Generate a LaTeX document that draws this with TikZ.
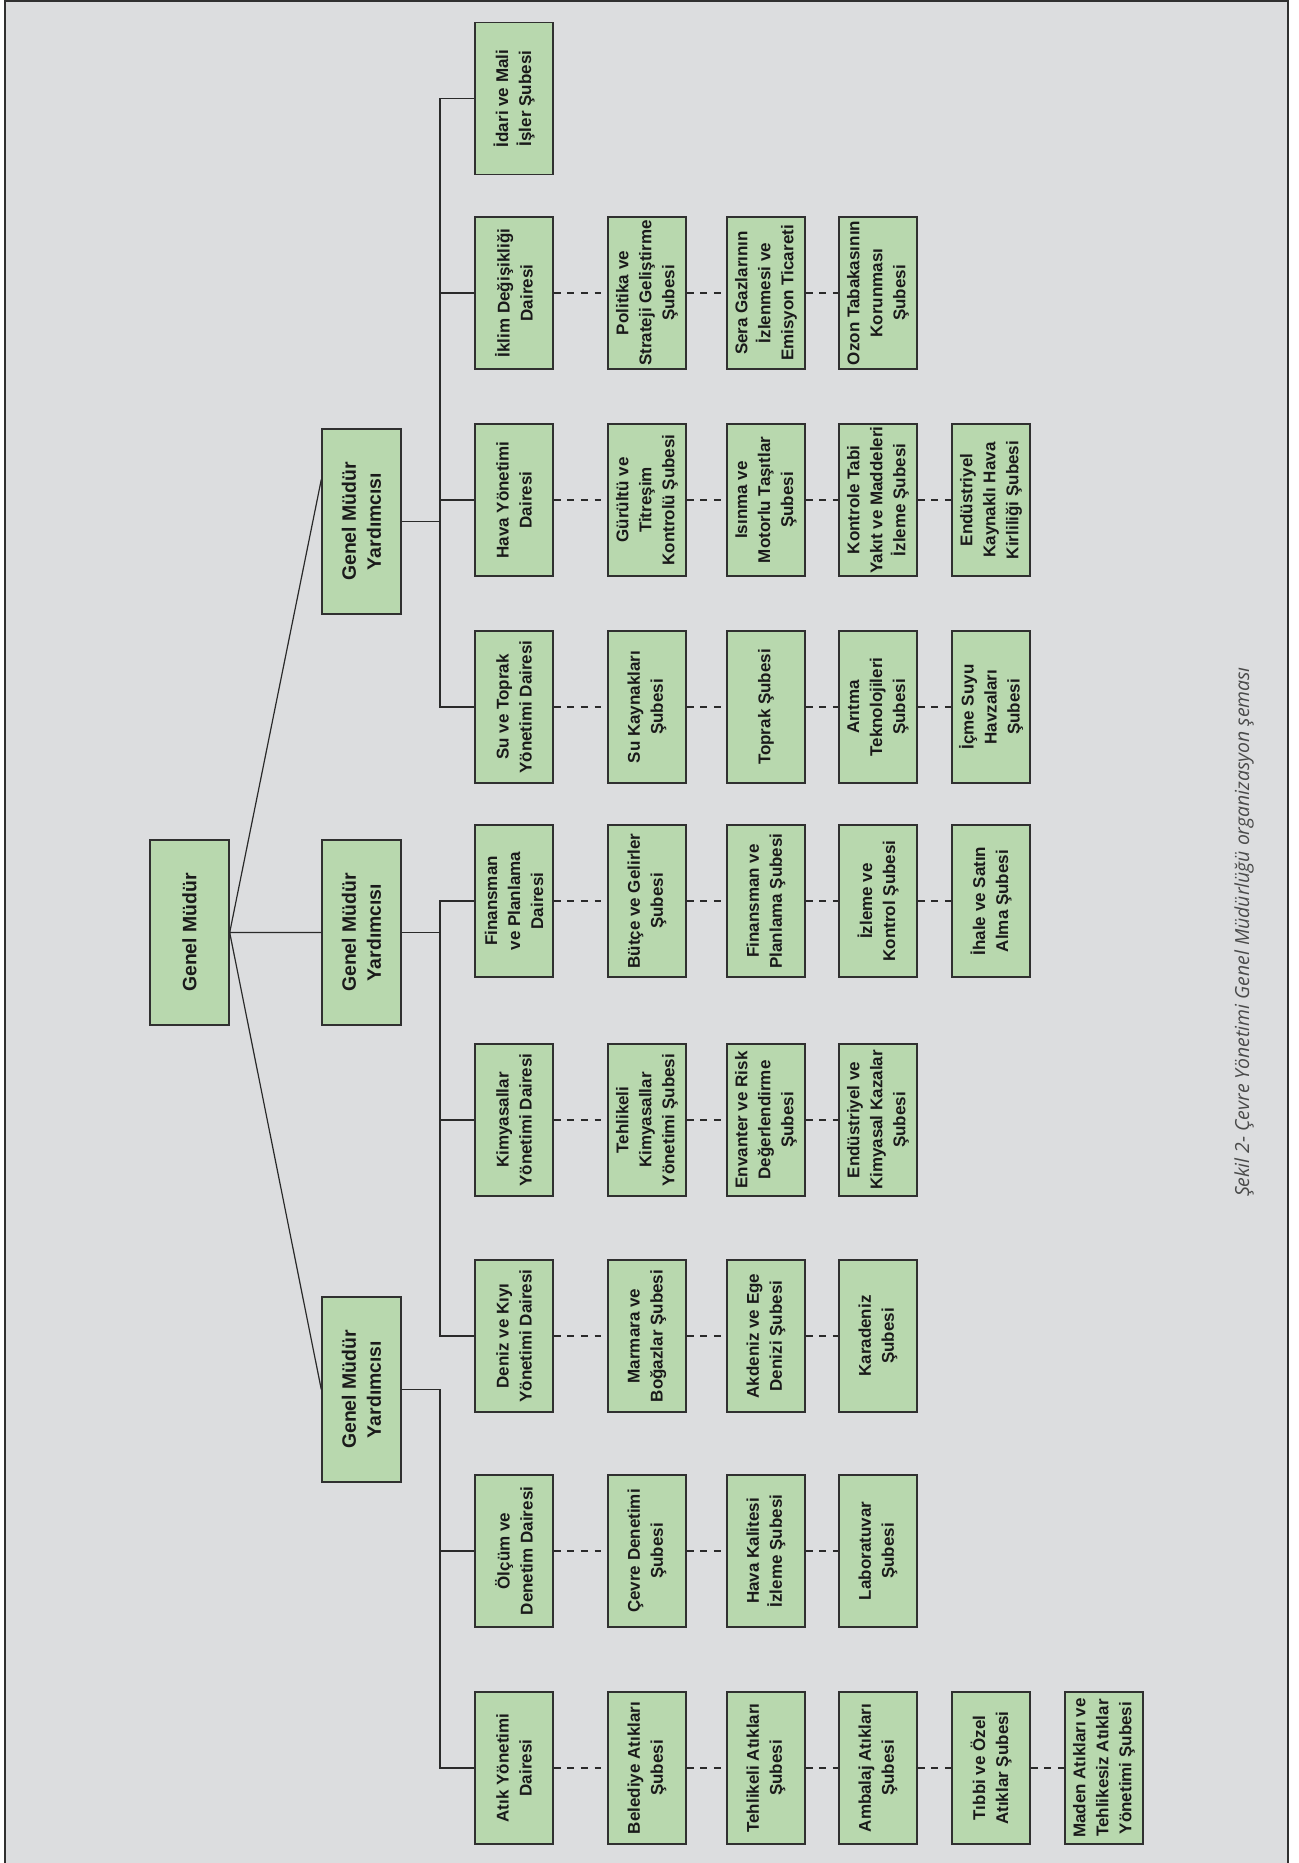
\documentclass[tikz,border=0pt]{standalone}
\usepackage{fontspec}
\newfontfamily\orgfont{Liberation Sans}
\newfontfamily\capfont{Open Sans}

\definecolor{zemin}{HTML}{DCDDDF}
\definecolor{kutu}{HTML}{B8D8AE}
\definecolor{cerceve}{HTML}{303030}
\definecolor{cizgi}{HTML}{2A2A2A}
\definecolor{yazi}{HTML}{1A1A1A}
\definecolor{altyazi}{HTML}{4A4A4A}

\newcommand\birimfont{\orgfont\bfseries\fontsize{8.5}{11.5}\selectfont}
\newcommand\yoneticifont{\orgfont\bfseries\fontsize{9.7}{12.5}\selectfont}

\begin{document}
\begin{tikzpicture}[
  x=0.5pt, y=-0.5pt,
  birim/.style={rectangle, draw=cerceve, fill=kutu, line width=0.7pt, rotate=90,
    minimum width=76pt, minimum height=39pt, inner sep=1pt, align=center,
    text=yazi, font=\birimfont},
  yonetici/.style={birim, minimum width=92.5pt, minimum height=39.5pt, font=\yoneticifont},
  hat/.style={draw=cizgi, line width=0.6pt},
  kesik/.style={hat, dash pattern=on 3.4pt off 3.4pt}
]
  \useasboundingbox (0,0) rectangle (1299,1863);
  \fill[zemin] (5,0) rectangle (1288,1863);
  \draw[cerceve, line width=1pt] (5,1863) -- (5,1) -- (1288,1) -- (1288,1863);

  % management
  \node[yonetici] (gm) at (189.5,932.5) {Genel Müdür};
  \node[yonetici] (gmyA) at (361.5,521.5) {Genel Müdür\\Yardımcısı};
  \node[yonetici] (gmyB) at (361.5,932.5) {Genel Müdür\\Yardımcısı};
  \node[yonetici] (gmyC) at (361.5,1389.5) {Genel Müdür\\Yardımcısı};

  % first deputy
  \node[birim] (idari) at (514,98.5) {İdari ve Mali\\İşler Şubesi};

  \node[birim] (iklim) at (514,293) {İklim Değişikliği\\Dairesi};
  \node[birim] (politika) at (647,293) {Politika ve\\Strateji Geliştirme\\Şubesi};
  \node[birim] (sera) at (766,293) {Sera Gazlarının\\İzlenmesi ve\\Emisyon Ticareti};
  \node[birim] (ozon) at (878,293) {Ozon Tabakasının\\Korunması\\Şubesi};

  \node[birim] (hava) at (514,500) {Hava Yönetimi\\Dairesi};
  \node[birim] (gurultu) at (647,500) {Gürültü ve\\Titreşim\\Kontrolü Şubesi};
  \node[birim] (isinma) at (766,500) {Isınma ve\\Motorlu Taşıtlar\\Şubesi};
  \node[birim] (kontrole) at (878,500) {Kontrole Tabi\\Yakıt ve Maddeleri\\İzleme Şubesi};
  \node[birim] (endhava) at (991,500) {Endüstriyel\\Kaynaklı Hava\\Kirliliği Şubesi};

  \node[birim] (su) at (514,707) {Su ve Toprak\\Yönetimi Dairesi};
  \node[birim] (sukay) at (647,707) {Su Kaynakları\\Şubesi};
  \node[birim] (toprak) at (766,707) {Toprak Şubesi};
  \node[birim] (aritma) at (878,707) {Arıtma\\Teknolojileri\\Şubesi};
  \node[birim] (icme) at (991,707) {İçme Suyu\\Havzaları\\Şubesi};

  % second deputy
  \node[birim] (finans) at (514,901) {Finansman\\ve Planlama\\Dairesi};
  \node[birim] (butce) at (647,901) {Bütçe ve Gelirler\\Şubesi};
  \node[birim] (finplan) at (766,901) {Finansman ve\\Planlama Şubesi};
  \node[birim] (izleme) at (878,901) {İzleme ve\\Kontrol Şubesi};
  \node[birim] (ihale) at (991,901) {İhale ve Satın\\Alma Şubesi};

  \node[birim] (kimya) at (514,1120) {Kimyasallar\\Yönetimi Dairesi};
  \node[birim] (tehkim) at (647,1120) {Tehlikeli\\Kimyasallar\\Yönetimi Şubesi};
  \node[birim] (envanter) at (766,1120) {Envanter ve Risk\\Değerlendirme\\Şubesi};
  \node[birim] (endkaza) at (878,1120) {Endüstriyel ve\\Kimyasal Kazalar\\Şubesi};

  \node[birim] (deniz) at (514,1336) {Deniz ve Kıyı\\Yönetimi Dairesi};
  \node[birim] (marmara) at (647,1336) {Marmara ve\\Boğazlar Şubesi};
  \node[birim] (akdeniz) at (766,1336) {Akdeniz ve Ege\\Denizi Şubesi};
  \node[birim] (karadeniz) at (878,1336) {Karadeniz\\Şubesi};

  % third deputy
  \node[birim] (olcum) at (514,1551) {Ölçüm ve\\Denetim Dairesi};
  \node[birim] (cevre) at (647,1551) {Çevre Denetimi\\Şubesi};
  \node[birim] (havakal) at (766,1551) {Hava Kalitesi\\İzleme Şubesi};
  \node[birim] (lab) at (878,1551) {Laboratuvar\\Şubesi};

  \node[birim] (atik) at (514,1768) {Atık Yönetimi\\Dairesi};
  \node[birim] (belediye) at (647,1768) {Belediye Atıkları\\Şubesi};
  \node[birim] (tehatik) at (766,1768) {Tehlikeli Atıkları\\Şubesi};
  \node[birim] (ambalaj) at (878,1768) {Ambalaj Atıkları\\Şubesi};
  \node[birim] (tibbi) at (991,1768) {Tıbbi ve Özel\\Atıklar Şubesi};
  \node[birim] (maden) at (1104,1768) {Maden Atıkları ve\\Tehlikesiz Atıklar\\Yönetimi Şubesi};

  \node[rotate=90, text=altyazi, font=\capfont\itshape\fontsize{9.7}{11}\selectfont]
    (sekil) at (1244,932) {Şekil 2- Çevre Yönetimi Genel Müdürlüğü organizasyon şeması};

  % solid lines
  \coordinate (omurga) at (440,0);
  \draw[hat] (gm.south) -- ([yshift=21pt]gmyA.north)
             (gm.south) -- (gmyB.north)
             (gm.south) -- (gmyC.north);
  \draw[hat] (gmyA.south) -- (gmyA.south -| omurga)
             (idari.north) -| (omurga |- su.north) -- (su.north)
             (iklim.north) -- (iklim.north -| omurga)
             (hava.north) -- (hava.north -| omurga);
  \draw[hat] (gmyB.south) -- (gmyB.south -| omurga)
             (finans.north) -| (omurga |- deniz.north) -- (deniz.north)
             (kimya.north) -- (kimya.north -| omurga);
  \draw[hat] (gmyC.south) -| (omurga |- atik.north) -- (atik.north)
             (olcum.north) -- (olcum.north -| omurga);

  % dashed lines
  \draw[kesik] (iklim.south) -- (politika.north) (politika.south) -- (sera.north)
               (sera.south) -- (ozon.north);
  \draw[kesik] (hava.south) -- (gurultu.north) (gurultu.south) -- (isinma.north)
               (isinma.south) -- (kontrole.north) (kontrole.south) -- (endhava.north);
  \draw[kesik] (su.south) -- (sukay.north) (sukay.south) -- (toprak.north)
               (toprak.south) -- (aritma.north) (aritma.south) -- (icme.north);
  \draw[kesik] (finans.south) -- (butce.north) (butce.south) -- (finplan.north)
               (finplan.south) -- (izleme.north) (izleme.south) -- (ihale.north);
  \draw[kesik] (kimya.south) -- (tehkim.north) (tehkim.south) -- (envanter.north)
               (envanter.south) -- (endkaza.north);
  \draw[kesik] (deniz.south) -- (marmara.north) (marmara.south) -- (akdeniz.north)
               (akdeniz.south) -- (karadeniz.north);
  \draw[kesik] (olcum.south) -- (cevre.north) (cevre.south) -- (havakal.north)
               (havakal.south) -- (lab.north);
  \draw[kesik] (atik.south) -- (belediye.north) (belediye.south) -- (tehatik.north)
               (tehatik.south) -- (ambalaj.north) (ambalaj.south) -- (tibbi.north)
               (tibbi.south) -- (maden.north);
\end{tikzpicture}
\end{document}
